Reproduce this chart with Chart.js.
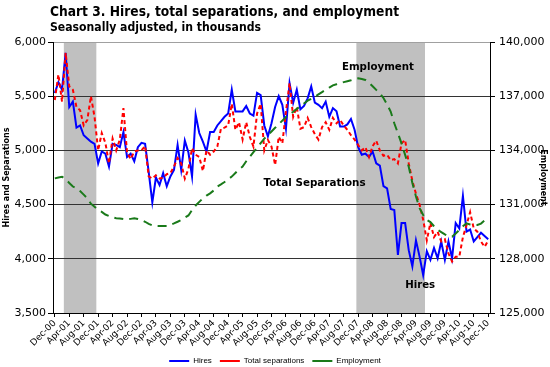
<!DOCTYPE html>
<html lang="en">
<head>
<meta charset="utf-8">
<script src="https://cdn.jsdelivr.net/npm/chart.js@4.4.1/dist/chart.umd.min.js"></script>
<style>
    html, body { margin: 0; padding: 0; background: #fff; }
</style>
</head>
<body>

<canvas id="jolts-chart" width="550" height="367"></canvas>

<script>
    // monthly, Dec-00 .. Dec-10
    const monthNames = ["Jan", "Feb", "Mar", "Apr", "May", "Jun", "Jul", "Aug", "Sep", "Oct", "Nov", "Dec"];
    const categories = [];
    for (let i = 0; i < 121; i++) {
        const m = (11 + i) % 12;
        const yr = Math.floor((2000 * 12 + 11 + i) / 12) % 100;
        categories.push(monthNames[m] + "-" + String(yr).padStart(2, "0"));
    }

    const tickLabels = ["Dec-00", "Apr-01", "Aug-01", "Dec-01", "Apr-02", "Aug-02", "Dec-02", "Apr-03", "Aug-03",
        "Dec-03", "Apr-04", "Aug-04", "Dec-04", "Apr-05", "Aug-05", "Dec-05", "Apr-06", "Aug-06", "Dec-06",
        "Apr-07", "Aug-07", "Dec-07", "Apr-08", "Aug-08", "Dec-08", "Apr-09", "Aug-09", "Dec-09", "Apr-10",
        "Aug-10", "Dec-10"];

    const hires = [
        5530, 5630, 5560, 5900, 5400, 5450, 5210, 5230, 5140, 5110,
        5080, 5060, 4880, 4990, 4970, 4850, 5060, 5050, 5030, 5170,
        4940, 4970, 4900, 5030, 5070, 5060, 4800, 4520, 4750, 4680,
        4790, 4670, 4760, 4820, 5050, 4820, 5090, 4980, 4760, 5330,
        5160, 5080, 4990, 5170, 5170, 5230, 5270, 5310, 5340, 5560,
        5360, 5360, 5360, 5410, 5340, 5320, 5530, 5510, 5230, 5130,
        5250, 5400, 5500, 5420, 5200, 5620, 5440, 5560, 5380, 5410,
        5480, 5590, 5440, 5420, 5390, 5450, 5310, 5390, 5360, 5220,
        5220, 5240, 5290, 5190, 5030, 4960, 4970, 4940, 4990, 4880,
        4860, 4670, 4650, 4460, 4450, 4035, 4330, 4330, 4080, 3930,
        4170, 4020, 3850, 4070, 3990, 4100, 4005, 4160, 3990, 4160,
        4005, 4330, 4280, 4580, 4250, 4270, 4160, 4200, 4240, 4210,
        4180];

    const separations = [
        5465, 5700, 5450, 5900, 5590, 5560, 5400, 5370, 5230, 5280,
        5500, 5310, 5000, 5160, 5070, 4880, 5110, 5000, 5100, 5390,
        4980, 4920, 4990, 5000, 5000, 5040, 4760, 4740, 4770, 4740,
        4750, 4780, 4790, 4850, 4930, 4880, 4740, 4830, 5020, 4960,
        4940, 4810, 5000, 4960, 4990, 5035, 5200, 5210, 5230, 5430,
        5190, 5260, 5100, 5260, 5125, 5035, 5340, 5430, 5000, 5096,
        5035, 4865, 5125, 5065, 5357, 5620, 5310, 5400, 5200, 5215,
        5300, 5215, 5150, 5100, 5215, 5260, 5190, 5300, 5250, 5280,
        5230, 5190, 5140, 5100, 5050, 5000, 5030, 4940, 5040, 5090,
        5000, 4950, 4960, 4910, 4920, 4880, 5065, 5096, 4880, 4720,
        4600, 4500, 4360, 4170, 4330, 4200, 4250, 4160, 4180, 4050,
        3975, 4020, 4020, 4200, 4310, 4430, 4280, 4250, 4160, 4110,
        4170];

    const employment = [
        132450, 132500, 132540, 132400, 132200, 132000, 131900, 131750, 131550, 131350,
        131050, 130880, 130700, 130600, 130450, 130370, 130300, 130250, 130230, 130200,
        130190, 130210, 130240, 130200, 130150, 130050, 129930, 129850, 129815, 129810,
        129815, 129815, 129880, 129960, 130050, 130150, 130280, 130400, 130700, 130950,
        131150, 131350, 131500, 131620, 131780, 132000, 132120, 132250, 132400, 132550,
        132750, 132950, 133100, 133400, 133650, 133900, 134150, 134400, 134650, 134850,
        135050, 135250, 135450, 135650, 135850, 136000, 136140, 136300, 136450, 136600,
        136750, 136850, 136970, 137100, 137230, 137350, 137480, 137600, 137660, 137720,
        137780, 137830, 137880, 137950, 137990, 137950, 137900, 137750, 137550, 137350,
        137160, 136900, 136550, 136150, 135500, 134950, 134390, 133750, 133100, 132200,
        131450, 130800, 130424, 130150, 130030, 129800, 129600, 129480, 129350, 129250,
        129220, 129400, 129600, 129800, 129960, 129900, 129870, 129870, 129950, 130120,
        130260];

    // recessions, as first / last month index
    const recessions = [[3, 11], [84, 102]];

    // text labels placed in data units (category index, left-axis value)
    const notes = [
        {text: "Employment", at: 79.5, value: 5742, width: 72},
        {text: "Total Separations", at: 57.8, value: 4676, width: 102},
        {text: "Hires", at: 97, value: 3731, width: 30}
    ];

    const FONT = "'DejaVu Sans', Verdana, sans-serif";
    Chart.defaults.font.family = FONT;
    Chart.defaults.color = "#000";

    const decorPlugin = {
        id: "decor",
        beforeDraw(chart) {
            const {ctx, chartArea, scales: {x}} = chart;
            const half = (x.getPixelForValue(1) - x.getPixelForValue(0)) / 2;
            ctx.save();
            ctx.fillStyle = "#c0c0c0";
            recessions.forEach(([a, b]) => {
                const l = x.getPixelForValue(a) - half;
                const r = x.getPixelForValue(b) + half;
                ctx.fillRect(l, chartArea.top, r - l, chartArea.bottom - chartArea.top);
            });
            ctx.restore();
        },
        afterDatasetsDraw(chart) {
            const {ctx, scales: {x, y}} = chart;
            ctx.save();
            ctx.fillStyle = "#000";
            ctx.textBaseline = "alphabetic";
            ctx.font = "bold 11px " + FONT;
            notes.forEach(n => {
                ctx.fillText(n.text, x.getPixelForValue(n.at), y.getPixelForValue(n.value), n.width);
            });
            ctx.restore();
        },
        afterDraw(chart) {
            const ctx = chart.ctx;
            ctx.save();
            ctx.fillStyle = "#000";
            ctx.textBaseline = "alphabetic";
            ctx.font = "bold 14px " + FONT;
            ctx.fillText("Chart 3. Hires, total separations, and employment", 50, 16, 349);
            ctx.font = "bold 12px " + FONT;
            ctx.fillText("Seasonally adjusted, in thousands", 50, 30.5, 211);
            ctx.restore();
        }
    };

    new Chart("jolts-chart", {
        type: "line",
        data: {
            labels: categories,
            datasets: [
                {
                    label: "Hires",
                    data: hires,
                    yAxisID: "y",
                    borderColor: "#0000ff",
                    borderWidth: 2,
                    pointRadius: 0,
                    order: 2
                },
                {
                    label: "Total separations",
                    data: separations,
                    yAxisID: "y",
                    borderColor: "#ff0000",
                    borderWidth: 2,
                    borderDash: [4, 3],
                    pointRadius: 0,
                    order: 1
                },
                {
                    label: "Employment",
                    data: employment,
                    yAxisID: "y2",
                    borderColor: "#1a7a1a",
                    borderWidth: 2,
                    borderDash: [9, 6],
                    pointRadius: 0,
                    order: 0
                }
            ]
        },
        options: {
            responsive: false,
            animation: false,
            devicePixelRatio: 1,
            layout: {padding: {top: 42, left: 0, right: 0, bottom: -8}},
            plugins: {
                title: {display: false},
                tooltip: {enabled: false},
                legend: {
                    position: "bottom",
                    labels: {
                        usePointStyle: true,
                        pointStyle: "line",
                        pointStyleWidth: 20,
                        boxHeight: 8,
                        padding: 8,
                        font: {size: 8, family: "'Liberation Sans', Arial, sans-serif"},
                        color: "#000",
                        sort: (a, b) => a.datasetIndex - b.datasetIndex
                    }
                }
            },
            scales: {
                x: {
                    type: "category",
                    offset: true,
                    grid: {
                        drawOnChartArea: false,
                        tickLength: 4,
                        tickColor: c => (c.index % 4 === 0 ? "#000" : "rgba(0,0,0,0)")
                    },
                    border: {color: "#000"},
                    ticks: {
                        autoSkip: false,
                        minRotation: 45,
                        maxRotation: 45,
                        padding: 1,
                        font: {size: 9},
                        callback: (v, i) => (tickLabels.includes(categories[i]) ? categories[i] : "")
                    },
                    afterFit: s => { s.height = 36; }
                },
                y: {
                    position: "left",
                    min: 3500,
                    max: 6000,
                    ticks: {
                        stepSize: 500,
                        padding: 2,
                        font: {size: 11},
                        callback: v => v.toLocaleString("en-US")
                    },
                    grid: {
                        color: c => (c.tick && c.tick.value === 6000 ? "#a0a0a0" : "#333"),
                        tickLength: 5,
                        tickColor: "#000"
                    },
                    border: {color: "#000"},
                    title: {
                        display: true,
                        text: "Hires and Separations",
                        font: {size: 8, weight: "bold"},
                        padding: 2
                    },
                    afterFit: s => { s.width = 53; }
                },
                y2: {
                    position: "right",
                    min: 125000,
                    max: 140000,
                    ticks: {
                        stepSize: 3000,
                        padding: 4,
                        font: {size: 11},
                        callback: v => v.toLocaleString("en-US")
                    },
                    grid: {
                        drawOnChartArea: false,
                        tickLength: 5,
                        tickColor: "#000"
                    },
                    border: {color: "#000"},
                    title: {
                        display: true,
                        text: "Employment",
                        font: {size: 8, weight: "bold"},
                        padding: 2
                    },
                    afterFit: s => { s.width = 60; }
                }
            }
        },
        plugins: [decorPlugin]
    });
</script>

</body>
</html>
